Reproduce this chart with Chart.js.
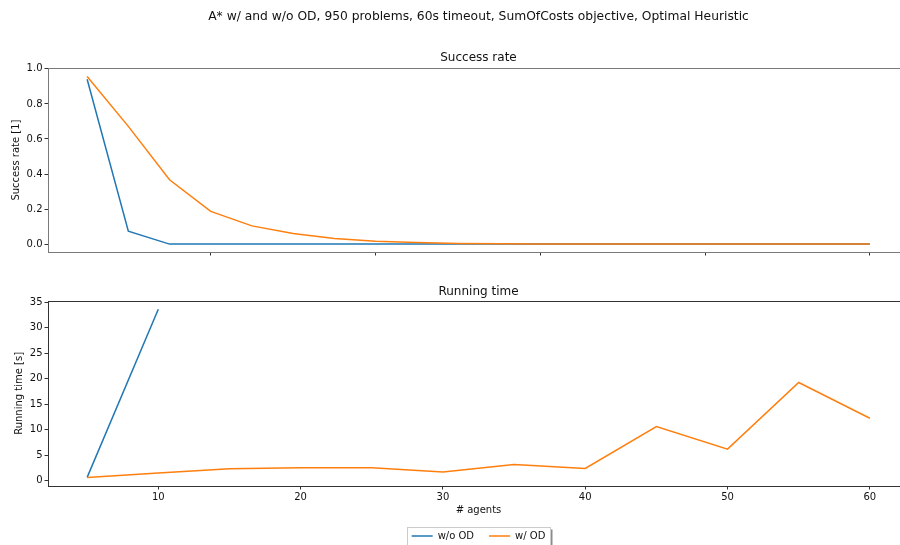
<!DOCTYPE html>
<html>
<head>
<meta charset="utf-8">
<title>A* w/ and w/o OD</title>
<script src="https://cdn.jsdelivr.net/npm/chart.js@4/dist/chart.umd.min.js"></script>
<style>
  html, body { margin: 0; padding: 0; background: #fff; }
  #figure { position: relative; width: 900px; height: 545px; overflow: hidden; background: #fff; }
  .panel { position: absolute; left: 0; }
  #topPanel { top: 0; width: 956px; height: 270px; }
  #bottomPanel { top: 270px; width: 956px; height: 300px; }
</style>
</head>
<body>
<div id="figure">
  <div class="panel" id="topPanel"><canvas id="successChart" width="956" height="270"></canvas></div>
  <div class="panel" id="bottomPanel"><canvas id="timeChart" width="956" height="300"></canvas></div>
</div>
<script>
// ---- data ----
const runIndex = [1, 2, 3, 4, 5, 6, 7, 8, 9, 10, 11, 12, 13, 14, 15, 16, 17, 18, 19, 20];
const successWithoutOD = [0.941, 0.074, 0, 0, 0, 0, 0, 0, 0, 0, 0, 0, 0, 0, 0, 0, 0, 0, 0, 0];
const successWithOD = [0.956, 0.672, 0.367, 0.187, 0.104, 0.061, 0.032, 0.017, 0.009, 0.004,
                       0.002, 0.001, 0.001, 0, 0, 0, 0, 0, 0, 0];

const agentsWithoutOD = [5, 10];
const timeWithoutOD = [0.66, 33.6];
const agentsWithOD = [5, 10, 15, 20, 25, 30, 35, 40, 45, 50, 55, 60];
const timeWithOD = [0.62, 1.5, 2.35, 2.55, 2.55, 1.7, 3.2, 2.4, 10.6, 6.2, 19.25, 12.25];

const successTicks = [0, 0.2, 0.4, 0.6, 0.8, 1.0];
const runTicks = [4, 8, 12, 16, 20];
const timeTicks = [0, 5, 10, 15, 20, 25, 30, 35];
const agentTicks = [10, 20, 30, 40, 50, 60];

const seriesNames = ['w/o OD', 'w/ OD'];
const BLUE = '#1f77b4';
const ORANGE = '#ff7f0e';

// ---- shared look ----
Chart.defaults.font.family = '"DejaVu Sans", sans-serif';
Chart.defaults.font.size = 10;
Chart.defaults.color = '#111';

const toPoints = (xs, ys) => xs.map((x, i) => ({ x: x, y: ys[i] }));
const fixedTicks = list => scale => { scale.ticks = list.map(v => ({ value: v })); };

function lineSet(label, xs, ys, color, order) {
  return {
    label: label,
    data: toPoints(xs, ys),
    borderColor: color,
    backgroundColor: color,
    borderWidth: 1.5,
    pointRadius: 0,
    tension: 0,
    fill: false,
    order: order
  };
}

// frame around the plotting area (all four spines)
function framePlugin(color) {
  return {
    id: 'frame',
    afterDraw(chart) {
      const { ctx, chartArea: a } = chart;
      ctx.save();
      ctx.strokeStyle = color;
      ctx.lineWidth = 1;
      ctx.strokeRect(Math.round(a.left) + 0.5, Math.round(a.top) + 0.5,
                     Math.round(a.right - a.left), Math.round(a.bottom - a.top));
      ctx.restore();
    }
  };
}

// boxed legend with a soft drop shadow
const legendBox = {
  id: 'legendBox',
  beforeDraw(chart) {
    const lg = chart.legend;
    if (!lg || !lg.legendHitBoxes || !lg.legendHitBoxes.length) return;
    const hb = lg.legendHitBoxes;
    const first = hb[0], last = hb[hb.length - 1];
    const left = Math.round(first.left) - 4.5;
    const right = Math.round(last.left + last.width) + 5.5;
    const top = Math.round(first.top) - 3.5;
    const h = 26;
    const { ctx } = chart;
    ctx.save();
    ctx.fillStyle = 'rgba(0,0,0,0.45)';
    ctx.fillRect(left + 2, top + 2, right - left, h);
    ctx.fillStyle = '#fff';
    ctx.fillRect(left, top, right - left, h);
    ctx.strokeStyle = '#cccccc';
    ctx.lineWidth = 1;
    ctx.strokeRect(left, top, right - left, h);
    ctx.restore();
  }
};

function yAxis(min, max, ticks, title, titlePad, fmt) {
  return {
    type: 'linear',
    min: min,
    max: max,
    afterBuildTicks: fixedTicks(ticks),
    afterFit(scale) { scale.width = 48; },
    border: { display: false },
    grid: { drawOnChartArea: false, drawTicks: true, tickLength: 3.5, tickColor: '#333', lineWidth: 1 },
    ticks: { padding: 2, color: '#111', font: { size: 10 }, callback: fmt },
    title: { display: true, text: title, color: '#111', font: { size: 10 }, padding: titlePad }
  };
}

// ---- success rate panel ----
new Chart(document.getElementById('successChart'), {
  type: 'line',
  data: {
    datasets: [
      lineSet(seriesNames[0], runIndex, successWithoutOD, BLUE, 1),
      lineSet(seriesNames[1], runIndex, successWithOD, ORANGE, 0)
    ]
  },
  options: {
    responsive: false,
    animation: false,
    events: [],
    layout: { padding: { left: 0, right: 47, top: 0, bottom: 14 } },
    scales: {
      x: {
        type: 'linear',
        min: 0.05,
        max: 20.95,
        afterBuildTicks: fixedTicks(runTicks),
        afterFit(scale) { scale.height = 4; },
        border: { display: false },
        grid: { drawOnChartArea: false, drawTicks: true, tickLength: 3.5, tickColor: '#333' },
        ticks: { display: false }
      },
      y: yAxis(-0.045, 1.004, successTicks, 'Success rate [1]', { top: 10.7, bottom: 0 },
               v => Number(v).toFixed(1))
    },
    plugins: {
      legend: { display: false },
      tooltip: { enabled: false },
      title: {
        display: true,
        fullSize: false,
        text: 'A* w/ and w/o OD, 950 problems, 60s timeout, SumOfCosts objective, Optimal Heuristic',
        color: '#111',
        font: { size: 12.3, weight: 'normal' },
        padding: { top: 9, bottom: 0 }
      },
      subtitle: {
        display: true,
        fullSize: false,
        text: 'Success rate',
        color: '#111',
        font: { size: 12, weight: 'normal' },
        padding: { top: 27.2, bottom: 2.8 }
      }
    }
  },
  plugins: [framePlugin('#7a7a7a')]
});

// ---- running time panel ----
new Chart(document.getElementById('timeChart'), {
  type: 'line',
  data: {
    datasets: [
      lineSet(seriesNames[0], agentsWithoutOD, timeWithoutOD, BLUE, 1),
      lineSet(seriesNames[1], agentsWithOD, timeWithOD, ORANGE, 0)
    ]
  },
  options: {
    responsive: false,
    animation: false,
    events: [],
    layout: { padding: { left: 0, right: 47, top: 0, bottom: 19 } },
    scales: {
      x: {
        type: 'linear',
        min: 2.25,
        max: 62.75,
        afterBuildTicks: fixedTicks(agentTicks),
        afterFit(scale) { scale.height = 30; },
        border: { display: false },
        grid: { drawOnChartArea: false, drawTicks: true, tickLength: 3.5, tickColor: '#333' },
        ticks: { padding: 1.5, color: '#111', font: { size: 10 }, maxRotation: 0,
                 callback: v => String(v) },
        title: { display: true, text: '# agents', color: '#111', font: { size: 10 },
                 padding: { top: 0, bottom: 0 } }
      },
      y: yAxis(-1.03, 35.25, timeTicks, 'Running time [s]', { top: 13, bottom: 0 },
               v => String(v))
    },
    plugins: {
      tooltip: { enabled: false },
      title: {
        display: true,
        fullSize: false,
        text: 'Running time',
        color: '#111',
        font: { size: 12, weight: 'normal' },
        padding: { top: 14.8, bottom: 1.6 }
      },
      legend: {
        display: true,
        position: 'bottom',
        fullSize: false,
        labels: {
          usePointStyle: true,
          pointStyle: 'line',
          pointStyleWidth: 21,
          boxHeight: 10,
          padding: 15,
          color: '#111',
          font: { size: 10 },
          sort: (a, b) => a.datasetIndex - b.datasetIndex
        }
      }
    }
  },
  plugins: [framePlugin('#333333'), legendBox]
});
</script>
</body>
</html>
